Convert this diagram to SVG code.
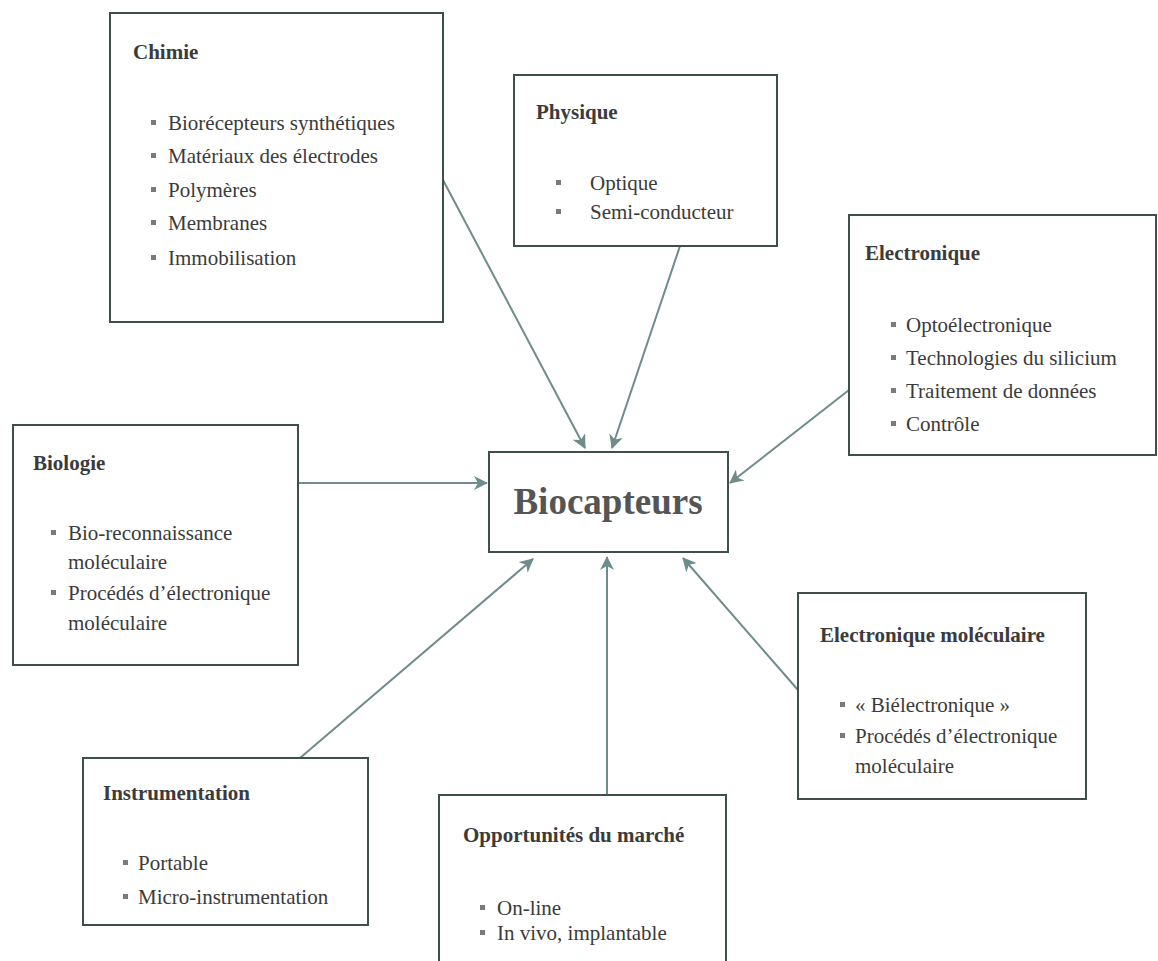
<svg xmlns="http://www.w3.org/2000/svg" width="1158" height="961" viewBox="0 0 1158 961">
<defs>
<marker id="arr" markerUnits="userSpaceOnUse" markerWidth="14" markerHeight="14" refX="13" refY="7" orient="auto">
<path d="M0,0 L14,7 L0,14 L4,7 z" fill="#6d8c8a"/>
</marker>
<style>
.box{fill:#fff;stroke:#3f4f4c;stroke-width:2}
.t{font-family:"Liberation Serif","Times New Roman",serif;font-size:21px;font-weight:bold;fill:#3b3b3b}
.i{font-family:"Liberation Serif","Times New Roman",serif;font-size:21px;fill:#3b3b3b}
.b{fill:#7a7a7a}
.c{stroke:#6d8c8a;stroke-width:2;fill:none;marker-end:url(#arr)}
.main{font-family:"Liberation Serif","Times New Roman",serif;font-size:37px;font-weight:bold;fill:#555}
</style>
</defs>
<rect width="1158" height="961" fill="#fff"/>
<g id="connectors">
<line class="c" x1="443" y1="180" x2="585" y2="448"/>
<line class="c" x1="680" y1="246" x2="612" y2="448"/>
<line class="c" x1="849" y1="390" x2="730" y2="483"/>
<line class="c" x1="298" y1="483" x2="487" y2="483"/>
<line class="c" x1="300" y1="758" x2="533" y2="559"/>
<line class="c" x1="607" y1="795" x2="607" y2="557"/>
<line class="c" x1="798" y1="690" x2="683" y2="558"/>
</g>
<g id="chimie">
<rect class="box" x="110" y="13" width="333" height="309"/>
<text class="t" x="133" y="59">Chimie</text>
<rect class="b" x="151" y="120" width="5" height="5"/><text class="i" x="168" y="130">Biorécepteurs synthétiques</text>
<rect class="b" x="151" y="153" width="5" height="5"/><text class="i" x="168" y="163">Matériaux des électrodes</text>
<rect class="b" x="151" y="187" width="5" height="5"/><text class="i" x="168" y="197">Polymères</text>
<rect class="b" x="151" y="220" width="5" height="5"/><text class="i" x="168" y="230">Membranes</text>
<rect class="b" x="151" y="255" width="5" height="5"/><text class="i" x="168" y="265">Immobilisation</text>
</g>
<g id="physique">
<rect class="box" x="514" y="75" width="263" height="171"/>
<text class="t" x="536" y="119">Physique</text>
<rect class="b" x="556" y="180" width="5" height="5"/><text class="i" x="590" y="190">Optique</text>
<rect class="b" x="556" y="209" width="5" height="5"/><text class="i" x="590" y="219">Semi-conducteur</text>
</g>
<g id="electronique">
<rect class="box" x="849" y="215" width="307" height="240"/>
<text class="t" x="865" y="260">Electronique</text>
<rect class="b" x="891" y="322" width="5" height="5"/><text class="i" x="906" y="332">Optoélectronique</text>
<rect class="b" x="891" y="355" width="5" height="5"/><text class="i" x="906" y="365">Technologies du silicium</text>
<rect class="b" x="891" y="388" width="5" height="5"/><text class="i" x="906" y="398">Traitement de données</text>
<rect class="b" x="891" y="421" width="5" height="5"/><text class="i" x="906" y="431">Contrôle</text>
</g>
<g id="biologie">
<rect class="box" x="13" y="425" width="285" height="240"/>
<text class="t" x="33" y="470">Biologie</text>
<rect class="b" x="51" y="530" width="5" height="5"/><text class="i" x="68" y="540">Bio-reconnaissance</text>
<text class="i" x="68" y="569">moléculaire</text>
<rect class="b" x="51" y="590" width="5" height="5"/><text class="i" x="68" y="600">Procédés d’électronique</text>
<text class="i" x="68" y="630">moléculaire</text>
</g>
<g id="biocapteurs">
<rect class="box" x="489" y="452" width="239" height="100"/>
<text class="main" x="608" y="514" text-anchor="middle">Biocapteurs</text>
</g>
<g id="electronique-moleculaire">
<rect class="box" x="798" y="593" width="288" height="206"/>
<text class="t" x="820" y="642">Electronique moléculaire</text>
<rect class="b" x="840" y="702" width="5" height="5"/><text class="i" x="855" y="712">« Biélectronique »</text>
<rect class="b" x="840" y="733" width="5" height="5"/><text class="i" x="855" y="743">Procédés d’électronique</text>
<text class="i" x="855" y="773">moléculaire</text>
</g>
<g id="instrumentation">
<rect class="box" x="83" y="758" width="285" height="167"/>
<text class="t" x="103" y="800">Instrumentation</text>
<rect class="b" x="123" y="860" width="5" height="5"/><text class="i" x="138" y="870">Portable</text>
<rect class="b" x="123" y="894" width="5" height="5"/><text class="i" x="138" y="904">Micro-instrumentation</text>
</g>
<g id="opportunites">
<rect class="box" x="439" y="795" width="287" height="180"/>
<text class="t" x="463" y="842">Opportunités du marché</text>
<rect class="b" x="480" y="905" width="5" height="5"/><text class="i" x="497" y="915">On-line</text>
<rect class="b" x="480" y="930" width="5" height="5"/><text class="i" x="497" y="940">In vivo, implantable</text>
</g>
</svg>
